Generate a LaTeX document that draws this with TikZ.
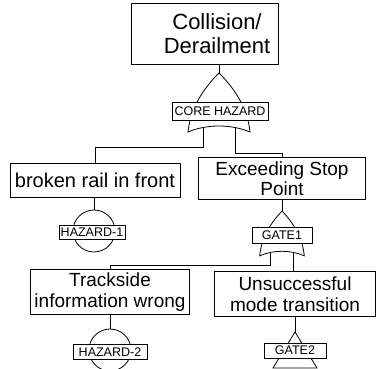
\documentclass[tikz,border=0pt]{standalone}
\usepackage{fontspec}
\setmainfont{Liberation Sans}
\usetikzlibrary{positioning, calc}

% OR gate drawn from its apex downwards
\tikzset{
  orgate/.pic={
    \draw (0,0) .. controls (-10,10) and (-28,30) .. (-31,59)
          .. controls (-12,51) and (12,51) .. (31,59)
          .. controls (28,30) and (10,10) .. (0,0) -- cycle;
    \coordinate (-in) at (0,0);
    \coordinate (-l) at (-16,54);
    \coordinate (-r) at (16,54);
  },
}

\begin{document}
\begin{tikzpicture}[
    x=1pt, y=-1pt,
    line width=0.8pt,
    event/.style={draw, align=center, inner sep=0pt, font=\fontsize{19}{20.5}\selectfont},
    tag/.style={draw, fill=white, inner sep=0pt, minimum height=16, font=\fontsize{12.5}{13}\selectfont},
    basic/.style={draw, circle, inner sep=0pt, minimum size=42},
]
\useasboundingbox (0,0) rectangle (376,369);
% events (the top text sits right of the box centre, as in the tool output)
\node[event, minimum width=147, minimum height=61] (top) at (204.5,33.5) {};
\node[align=center, inner sep=0pt, font=\fontsize{22}{24}\selectfont] (toptext) at (217,34) {Collision/\\Derailment};
\node[event, minimum width=170, minimum height=34, font=\fontsize{20}{21}\selectfont] (rail) at (95,180) {broken rail in front};
\node[event, minimum width=167, minimum height=42] (stop) at (282,178.5) {Exceeding Stop\\Point};
\node[event, minimum width=159, minimum height=45] (track) at (110,292) {Trackside\\information wrong};
\node[event, minimum width=161, minimum height=45] (mode) at (295,294) {Unsuccessful\\mode transition};
% gates
\pic (g0) at (219,73) {orgate};
\pic[xscale=0.72, yscale=0.76] (g1) at (282,211) {orgate};
\node[basic] (h1) at (94,231) {};
\node[basic] (h2) at (110,350) {};
\coordinate (t2) at (295,332);
\draw (t2) -- ++(22,36) -- ++(-44,0) -- cycle;
% gate tags
\node[tag, minimum width=96, minimum height=18] (corelbl) at (220,111) {CORE HAZARD};
\node[tag, minimum width=66, minimum height=14] (haz1) at (92,232.5) {HAZARD-1};
\node[tag, minimum width=60] (gate1lbl) at (282,235) {GATE1};
\node[tag, minimum width=74, minimum height=15] (haz2) at (110,352) {HAZARD-2};
\node[tag, minimum width=62, minimum height=15] (gate2lbl) at (295,350.5) {GATE2};
% connectors
\draw (g0-in |- top.south) -- (g0-in);
\draw (g0-l) -- ++(0,20) -| (rail.north);
\draw (g0-r) -- ++(0,26) -| (stop.north);
\draw (stop.south) -- (g1-in);
\draw (g1-l) -- ++(0,13) -| (track.north);
\draw (g1-r) -- (g1-r |- mode.north);
\draw (h1.north |- rail.south) -- (h1.north);
\draw (track.south) -- (h2.north);
\draw (mode.south) -- (t2);
\end{tikzpicture}
\end{document}
